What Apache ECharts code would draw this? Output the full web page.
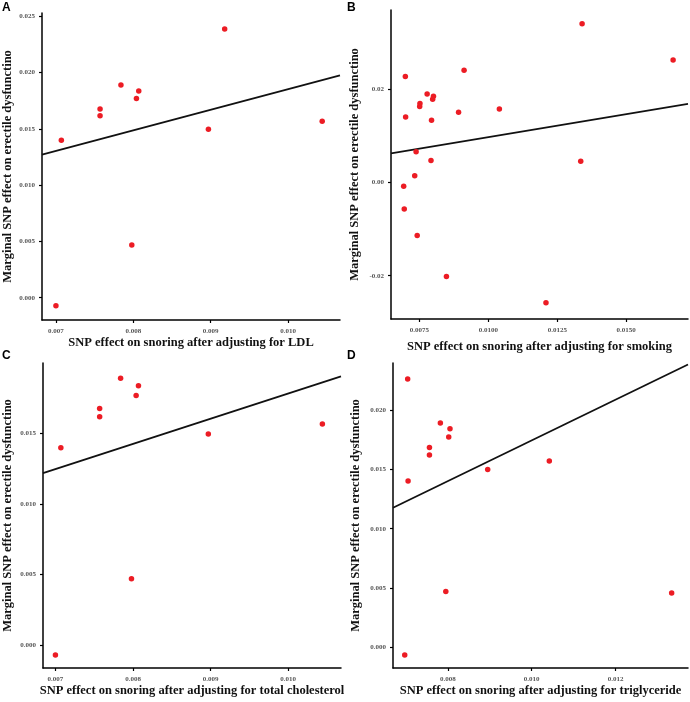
<!DOCTYPE html>
<html>
<head>
<meta charset="utf-8">
<script src="https://cdn.jsdelivr.net/npm/echarts@6/dist/echarts.min.js"></script>
<style>
  html, body { margin: 0; background: #fff; }
  #chart { width: 690px; height: 702px; }
</style>
</head>
<body>
<div id="chart"></div>
<script>
// Panel A - adjusting for LDL
const xA = [0.00700, 0.00707, 0.00757, 0.00757, 0.00784, 0.00804, 0.00807, 0.00798, 0.00897, 0.00918, 0.01044];
const yA = [-0.00071, 0.01399, 0.01618, 0.01678, 0.01891, 0.01770, 0.01838, 0.00469, 0.01497, 0.02388, 0.01568];
// Panel B - adjusting for smoking
const xB = [0.01340, 0.01670, 0.00699, 0.00912, 0.00778, 0.00801, 0.00798, 0.00752, 0.00751, 0.00700, 0.00794,
            0.00892, 0.01040, 0.00738, 0.00792, 0.01335, 0.00733, 0.00693, 0.00695, 0.00742, 0.00848, 0.01209];
const yB = [0.03407, 0.02629, 0.02271, 0.02407, 0.01900, 0.01850, 0.01786, 0.01693, 0.01629, 0.01407, 0.01336,
            0.01507, 0.01579, 0.00657, 0.00471, 0.00457, 0.00143, -0.00079, -0.00571, -0.01136, -0.02014, -0.02579];
// Panel C - adjusting for total cholesterol
const xC = [0.00700, 0.00707, 0.00757, 0.00757, 0.00784, 0.00804, 0.00807, 0.00798, 0.00897, 0.01044];
const yC = [-0.00071, 0.01399, 0.01618, 0.01678, 0.01891, 0.01770, 0.01838, 0.00469, 0.01497, 0.01568];
// Panel D - adjusting for triglyceride
const xD = [0.00704, 0.00782, 0.00805, 0.00802, 0.00756, 0.00756, 0.00705, 0.00895, 0.01042, 0.00795, 0.01334, 0.00697];
const yD = [0.02265, 0.01893, 0.01845, 0.01775, 0.01687, 0.01623, 0.01403, 0.01501, 0.01572, 0.00470, 0.00456, -0.00068];

// fitted line: [intercept, slope]
const fitA = [0.00023, 1.83];
const fitB = [-0.00018, 0.99];
const fitC = [-0.00006, 1.79];
const fitD = [0.00026, 1.72];

// axis extents
const xRangeA = [0.00682, 0.01067], yRangeA = [-0.00198, 0.0253];
const xRangeB = [0.00647, 0.01724], yRangeB = [-0.02928, 0.037];
const xRangeC = [0.00684, 0.01068], yRangeC = [-0.00164, 0.0200];
const xRangeD = [0.00669, 0.01373], yRangeD = [-0.00177, 0.0240];

// tick values
const xTicksA = [0.007, 0.008, 0.009, 0.010], yTicksA = [0, 0.005, 0.010, 0.015, 0.020, 0.025];
const xTicksB = [0.0075, 0.0100, 0.0125, 0.0150], yTicksB = [-0.02, 0, 0.02];
const xTicksC = [0.007, 0.008, 0.009, 0.010], yTicksC = [0, 0.005, 0.010, 0.015];
const xTicksD = [0.008, 0.010, 0.012], yTicksD = [0, 0.005, 0.010, 0.015, 0.020];

const yTitle = 'Marginal SNP effect on erectile dysfunctino';
const xTitles = [
    'SNP effect on snoring after adjusting for LDL',
    'SNP effect on snoring after adjusting for smoking',
    'SNP effect on snoring after adjusting for total cholesterol',
    'SNP effect on snoring after adjusting for triglyceride',
];
const panelLetters = ['A', 'B', 'C', 'D'];

const panels = [
    { x: xA, y: yA, fit: fitA, xr: xRangeA, yr: yRangeA, xt: xTicksA, yt: yTicksA, xd: 3, yd: 3,
      grid: { left: 42, top: 13, width: 298, height: 307 }, yGap: 28, xGap: 13 },
    { x: xB, y: yB, fit: fitB, xr: xRangeB, yr: yRangeB, xt: xTicksB, yt: yTicksB, xd: 4, yd: 2,
      grid: { left: 391, top: 10, width: 297, height: 309 }, yGap: 30, xGap: 21 },
    { x: xC, y: yC, fit: fitC, xr: xRangeC, yr: yRangeC, xt: xTicksC, yt: yTicksC, xd: 3, yd: 3,
      grid: { left: 43, top: 363, width: 298, height: 305 }, yGap: 29, xGap: 9 },
    { x: xD, y: yD, fit: fitD, xr: xRangeD, yr: yRangeD, xt: xTicksD, yt: yTicksD, xd: 3, yd: 3,
      grid: { left: 393, top: 363, width: 295, height: 305 }, yGap: 31, xGap: 8 },
];

const serif = '"Liberation Serif", "Times New Roman", serif';
const axisCommon = (ticks, decimals) => ({
    axisLine: { show: true, onZero: false, lineStyle: { color: '#000', width: 1.5 } },
    axisTick: { show: true, length: 3, customValues: ticks, lineStyle: { color: '#000', width: 1.2 } },
    axisLabel: {
        customValues: ticks,
        fontFamily: serif,
        fontWeight: 'bold',
        fontSize: 7,
        color: '#555',
        formatter: (v) => Number(v).toFixed(decimals),
    },
    splitLine: { show: false },
    nameLocation: 'middle',
    nameTextStyle: { fontFamily: serif, fontWeight: 'bold', fontSize: 12.5, color: '#111' },
});

const grids = [], xAxes = [], yAxes = [], series = [], texts = [];
panels.forEach((p, i) => {
    grids.push(p.grid);
    xAxes.push(Object.assign(axisCommon(p.xt, p.xd), {
        type: 'value', gridIndex: i, min: p.xr[0], max: p.xr[1],
        name: xTitles[i], nameGap: p.xGap,
    }));
    const ya = Object.assign(axisCommon(p.yt, p.yd), {
        type: 'value', gridIndex: i, min: p.yr[0], max: p.yr[1],
        name: yTitle, nameGap: p.yGap,
    });
    ya.axisLabel.margin = 7;
    yAxes.push(ya);
    series.push({
        type: 'scatter', xAxisIndex: i, yAxisIndex: i,
        data: p.x.map((v, k) => [v, p.y[k]]),
        symbolSize: 5.5,
        itemStyle: { color: '#ec1c24', opacity: 1 },
    });
    series.push({
        type: 'line', xAxisIndex: i, yAxisIndex: i,
        data: p.xr.map((v) => [v, p.fit[0] + p.fit[1] * v]),
        symbol: 'none',
        lineStyle: { color: '#111', width: 1.8 },
        z: 1,
    });
    texts.push({
        type: 'text',
        left: i % 2 === 0 ? 2 : 347,
        top: i < 2 ? 2 : 350,
        style: { text: panelLetters[i], font: 'bold 12px "Liberation Sans", Arial, sans-serif', fill: '#000' },
    });
});

const chart = echarts.init(document.getElementById('chart'));
chart.setOption({
    animation: false,
    grid: grids,
    xAxis: xAxes,
    yAxis: yAxes,
    series: series,
    graphic: texts,
});
</script>
</body>
</html>
